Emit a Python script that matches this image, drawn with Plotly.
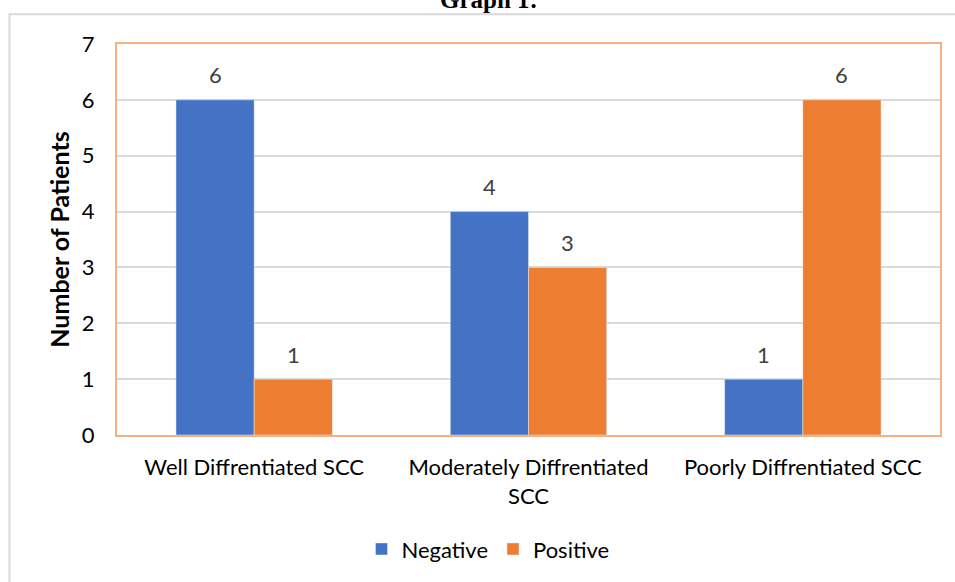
import plotly.graph_objects as go

categories = ["Well Diffrentiated SCC", "Moderately Diffrentiated<br>SCC", "Poorly Diffrentiated SCC"]
negative = [6, 4, 1]
positive = [1, 3, 6]
y_ticks = [0, 1, 2, 3, 4, 5, 6, 7]

FONT = "Lato"
FS = 22
BARGAP = 0.43
PLOT_W = 823
bar_px = PLOT_W / len(categories) * (1 - BARGAP) / 2

fig = go.Figure()
fig.add_trace(go.Bar(name="Negative", x=categories, y=negative, marker_color="#4472C4"))
fig.add_trace(go.Bar(name="Positive", x=categories, y=positive, marker_color="#ED7D31"))

annotations = []
for series, sign in ((negative, -1), (positive, 1)):
    for cat, val in zip(categories, series):
        annotations.append(dict(x=cat, y=val, xref="x", yref="y", text=str(val),
                                showarrow=False, xanchor="center", yanchor="middle",
                                xshift=sign * bar_px / 2, yshift=25,
                                font=dict(family=FONT, size=FS, color="#404040")))
annotations.append(dict(text="<b>Graph 1:</b>", xref="paper", yref="paper",
                        x=(489 - 117) / PLOT_W, y=(438 - 9) / 394, xanchor="center", yanchor="bottom",
                        yshift=-6, showarrow=False,
                        font=dict(family="Liberation Serif", size=25, color="#000000")))

fig.update_layout(
    width=955, height=582,
    margin=dict(l=117, r=15, t=44, b=144),
    paper_bgcolor="white", plot_bgcolor="white",
    barmode="group", bargap=BARGAP, bargroupgap=0,
    font=dict(family=FONT, size=FS, color="#000000"),
    showlegend=True,
    legend=dict(orientation="h", x=(488 - 117) / PLOT_W, xanchor="center", y=-0.292, yanchor="middle",
                font=dict(family=FONT, size=FS, color="#000000"), itemwidth=30),
    xaxis=dict(showline=True, linecolor="#F4B183", linewidth=2, mirror=True,
               showgrid=False, ticklabelstandoff=12,
               tickfont=dict(family=FONT, size=FS, color="#000000")),
    yaxis=dict(range=[0, 7], tickvals=y_ticks, showline=True, linecolor="#F4B183",
               linewidth=2, mirror=True, showgrid=True, gridcolor="#D9D9D9", gridwidth=1.5,
               zeroline=False, ticklabelstandoff=16,
               tickfont=dict(family=FONT, size=FS, color="#000000"),
               title=dict(text="<b>Number of Patients</b>", standoff=5,
                          font=dict(family=FONT, size=25, color="#000000"))),
    shapes=[dict(type="rect", xref="paper", yref="paper",
                 x0=(9.5 - 117) / PLOT_W, x1=(965 - 117) / PLOT_W,
                 y0=(438 - 600) / 394, y1=(438 - 14) / 394,
                 line=dict(color="#D9D9D9", width=2), fillcolor="rgba(0,0,0,0)", layer="below")],
    annotations=annotations,
)

fig.write_html("out.html", config={"displayModeBar": False},
               post_script="document.body.style.margin='0';")
